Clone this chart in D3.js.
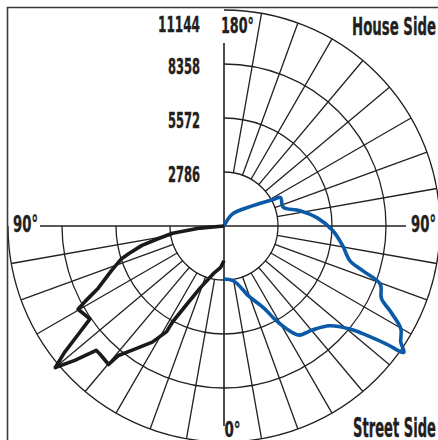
<!DOCTYPE html>
<html><head><meta charset="utf-8">
<script src="https://cdn.jsdelivr.net/npm/d3@7"></script>
<style>
html,body{margin:0;padding:0;background:#fff;}
svg{display:block;}
text{font-family:"DejaVu Sans Condensed","DejaVu Sans",sans-serif;font-stretch:condensed;font-weight:bold;fill:#231f20;stroke:#231f20;stroke-width:0.35px;}
</style></head>
<body>
<svg id="c" width="438" height="440"></svg>
<script>
// ring values (candela)
const ringValues = [2786, 5572, 8358, 11144];
const ringLabels = ["2786", "5572", "8358", "11144"];
const axisLabels = ["0°", "90°", "180°"];
const sideLabels = ["House Side", "Street Side"];

// right half (blue). angle from nadir (deg), candela
const blueAngles = [0, 10, 19.5, 26, 28.5, 31.3, 34.5, 40.3, 46.6, 50.7, 52.5, 54, 54.9, 56.7, 59.8, 62.8, 65.3, 69.6, 72.1, 74.6, 80.7, 87.8, 95, 101.4, 105.5, 108.3, 116.8, 118.2, 125, 144.7, 160];
const blueValues = [2733, 2880, 3840, 4730, 5450, 6200, 6830, 7040, 7490, 8390, 9250, 10360, 11340, 10910, 10560, 9660, 8940, 8600, 7540, 6730, 6200, 5600, 4830, 4000, 3350, 3190, 3260, 2890, 1830, 770, 0];

// left half (black)
const blackAngles = [0, 4.9, 12.6, 21, 25.4, 28.2, 28.5, 31.7, 36.6, 39.2, 39.8, 44, 45.8, 48, 50, 51.6, 53.3, 55.3, 60.3, 61.5, 63.7, 68.3, 72.3, 73.9, 76.7, 79.3, 82, 85, 90];
const blackValues = [1790, 2160, 2520, 3420, 4470, 5620, 6200, 7040, 7990, 8620, 9300, 9200, 9200, 10360, 11360, 10500, 9410, 8410, 8670, 8150, 7240, 6260, 5550, 5100, 4350, 3400, 2680, 1240, 0];

const W = 438, H = 440;
const cx = 224, cy = 226;
const svg = d3.select("#c");

const r = d3.scaleLinear().domain([0, 11144]).range([0, 216]);
const angRight = d3.scaleLinear().domain([0, 180]).range([Math.PI, 0]);
const angLeft = d3.scaleLinear().domain([0, 180]).range([Math.PI, 2 * Math.PI]);

const g = svg.append("g").attr("transform", `translate(${cx},${cy})`);

// frame
svg.append("path").attr("d", `M7.5,${H} V7.5 H${W}`).attr("fill", "none")
  .attr("stroke", "#3a3a3a").attr("stroke-width", 1.6);

const gridColor = "#231f20", gw = 1.3;
const arc = d3.arc();
ringValues.forEach(v => {
  g.append("path").attr("d", arc({innerRadius: r(v), outerRadius: r(v), startAngle: Math.PI / 2, endAngle: 3 * Math.PI / 2}))
    .attr("fill", "none").attr("stroke", gridColor).attr("stroke-width", gw);
  g.append("path").attr("d", arc({innerRadius: r(v), outerRadius: r(v), startAngle: 0, endAngle: Math.PI / 2}))
    .attr("fill", "none").attr("stroke", gridColor).attr("stroke-width", gw);
});

const upperAngles = d3.range(100, 180, 10);
const lowerAngles = d3.range(10, 90, 10);
const rad = (a, side) => side > 0 ? angRight(a) : angLeft(a);
function radial(a, side, r0, r1) {
  const t = rad(a, side);
  g.append("line")
    .attr("x1", r0 * Math.sin(t)).attr("y1", -r0 * Math.cos(t))
    .attr("x2", r1 * Math.sin(t)).attr("y2", -r1 * Math.cos(t))
    .attr("stroke", gridColor).attr("stroke-width", gw);
}
upperAngles.forEach(a => radial(a, 1, r(2786), r(11144)));
lowerAngles.forEach(a => { radial(a, 1, r(2786), r(11144)); radial(a, -1, r(2786), r(11144)); });

// axes
g.append("line").attr("x1", 0).attr("y1", -183).attr("x2", 0).attr("y2", 200).attr("stroke", gridColor).attr("stroke-width", 1.6);
g.append("line").attr("x1", -184).attr("y1", 0).attr("x2", 182).attr("y2", 0).attr("stroke", gridColor).attr("stroke-width", 1.6);

// curves
g.append("path").datum(d3.zip(blueAngles, blueValues))
  .attr("d", d3.lineRadial().angle(d => angRight(d[0])).radius(d => r(d[1])).curve(d3.curveCatmullRom.alpha(0.5)))
  .attr("fill", "none").attr("stroke", "#0a5aa8").attr("stroke-width", 3.6).attr("stroke-linejoin", "round");
g.append("path").datum(d3.zip(blackAngles, blackValues))
  .attr("d", d3.lineRadial().angle(d => angLeft(d[0])).radius(d => r(d[1])).curve(d3.curveLinear))
  .attr("fill", "none").attr("stroke", "#1a1a1a").attr("stroke-width", 3.6).attr("stroke-linejoin", "round");

// labels
function label(t, x, y, size, len, anchor) {
  svg.append("text").attr("x", x).attr("y", y).attr("font-size", size)
    .attr("text-anchor", anchor || "start")
    .attr("textLength", len).attr("lengthAdjust", "spacingAndGlyphs").text(t);
}
ringLabels.forEach((t, i) => {
  const y = Math.max(cy - r(ringValues[i]) + 9.5, 32);
  label(t, 200, y, 21, t.length === 5 ? 42 : 32, "end");
});
label(axisLabels[2], 221, 33, 21, 33);
label(axisLabels[1], 13, 232, 22.5, 25);
label(axisLabels[1], 436, 232, 22.5, 25, "end");
label(axisLabels[0], 224.5, 437, 21, 16);
label(sideLabels[0], 436, 35, 24.5, 84, "end");
label(sideLabels[1], 436, 436.5, 26, 83, "end");
</script>
</body></html>
